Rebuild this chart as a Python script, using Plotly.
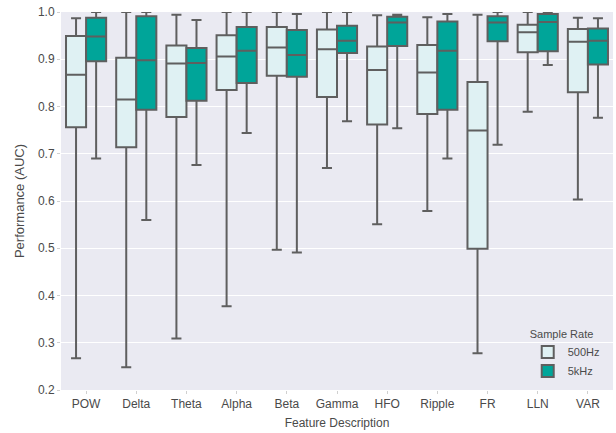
import plotly.graph_objects as go

categories = ["POW", "Delta", "Theta", "Alpha", "Beta", "Gamma", "HFO", "Ripple", "FR", "LLN", "VAR"]

# 500Hz
lo_500 = [0.267, 0.248, 0.309, 0.377, 0.497, 0.670, 0.551, 0.579, 0.278, 0.789, 0.603]
q1_500 = [0.756, 0.714, 0.778, 0.835, 0.865, 0.820, 0.762, 0.784, 0.499, 0.915, 0.830]
med_500 = [0.867, 0.815, 0.891, 0.906, 0.925, 0.921, 0.877, 0.872, 0.749, 0.957, 0.937]
q3_500 = [0.949, 0.903, 0.929, 0.951, 0.968, 0.963, 0.927, 0.930, 0.852, 0.973, 0.964]
hi_500 = [0.987, 1.000, 0.994, 1.000, 1.000, 1.000, 0.993, 0.989, 0.994, 1.000, 0.988]

# 5kHz
lo_5k = [0.690, 0.560, 0.676, 0.744, 0.491, 0.769, 0.754, 0.690, 0.719, 0.888, 0.776]
q1_5k = [0.896, 0.793, 0.812, 0.850, 0.863, 0.913, 0.928, 0.793, 0.938, 0.917, 0.889]
med_5k = [0.948, 0.898, 0.892, 0.918, 0.909, 0.939, 0.978, 0.918, 0.978, 0.979, 0.939]
q3_5k = [0.988, 0.991, 0.924, 0.968, 0.962, 0.971, 0.990, 0.980, 0.991, 0.996, 0.965]
hi_5k = [1.000, 1.000, 0.983, 1.000, 0.996, 1.000, 0.994, 0.996, 1.000, 1.000, 0.987]

y_ticks = [0.2, 0.3, 0.4, 0.5, 0.6, 0.7, 0.8, 0.9, 1.0]

LINE = "#5f5f5f"
TEXT = "#4a4a4a"
FONT = "Liberation Sans, Arial, sans-serif"

fig = go.Figure()
fig.add_trace(go.Box(
    name="500Hz", x=categories, q1=q1_500, median=med_500, q3=q3_500,
    lowerfence=lo_500, upperfence=hi_500,
    fillcolor="#dff1f3", line=dict(color=LINE, width=2), whiskerwidth=0.5,
))
fig.add_trace(go.Box(
    name="5kHz", x=categories, q1=q1_5k, median=med_5k, q3=q3_5k,
    lowerfence=lo_5k, upperfence=hi_5k,
    fillcolor="#00a599", line=dict(color=LINE, width=2), whiskerwidth=0.5,
))

fig.update_layout(
    width=616, height=433,
    margin=dict(l=61, r=3, t=12, b=43),
    paper_bgcolor="white", plot_bgcolor="#eaeaf2",
    boxmode="group", boxgap=0.2, boxgroupgap=0.0,
    font=dict(family=FONT, size=12, color=TEXT),
    showlegend=True,
    legend=dict(
        title=dict(text="Sample Rate", font=dict(size=11, color=TEXT)),
        x=0.985, y=0.01, xanchor="right", yanchor="bottom",
        bgcolor="rgba(0,0,0,0)", font=dict(size=11, color=TEXT),
        itemwidth=30,
    ),
    xaxis=dict(
        title=dict(text="Feature Description", standoff=8, font=dict(size=12, color=TEXT)),
        showgrid=False, zeroline=False, showline=False, automargin=False,
        ticks="outside", ticklen=3, tickcolor="#d0d0d0",
        tickfont=dict(size=12, color=TEXT),
    ),
    yaxis=dict(
        title=dict(text="Performance (AUC)", standoff=10, font=dict(size=13, color=TEXT)),
        range=[0.2, 1.0], tickvals=y_ticks, tickformat=".1f",
        showgrid=True, gridcolor="white", gridwidth=1.2,
        zeroline=False, showline=False, automargin=False,
        ticks="outside", ticklen=3, tickcolor="#d0d0d0",
        tickfont=dict(size=12, color=TEXT),
    ),
)

fig.write_html("out.html", config={"displayModeBar": False},
               post_script="document.body.style.margin='0';")
